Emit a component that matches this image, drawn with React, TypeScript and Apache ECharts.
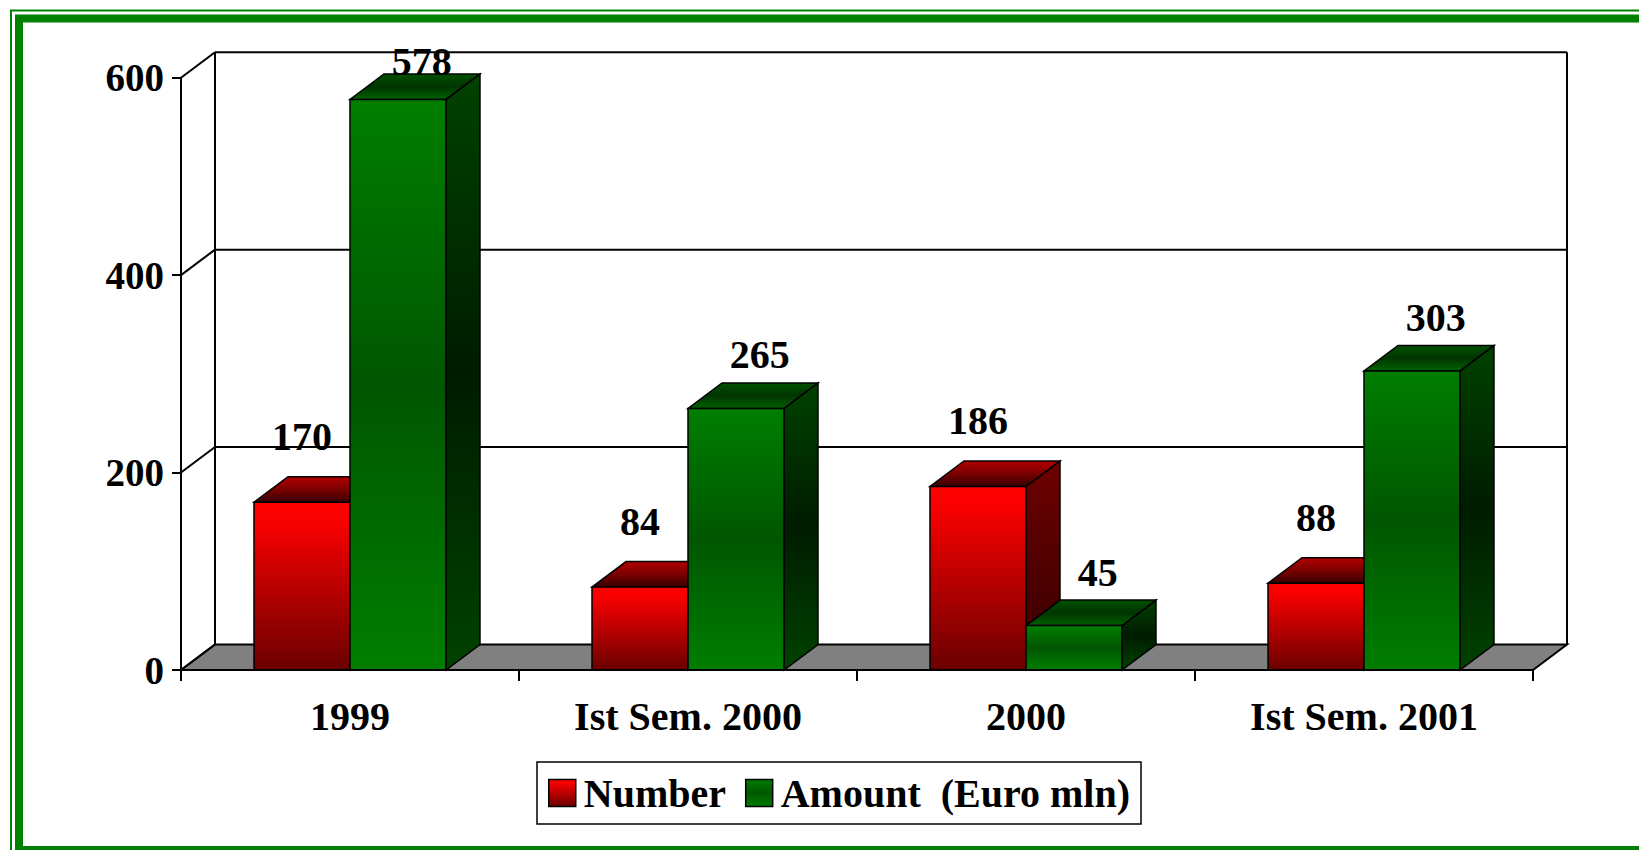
import { useEffect, useRef } from "react";
import * as echarts from "echarts";

const categories = ["1999", "Ist Sem. 2000", "2000", "Ist Sem. 2001"];
const numberValues = [170, 84, 186, 88];
const amountValues = [578, 265, 45, 303];
const seriesNames = ["Number", "Amount  (Euro mln)"];
const yTicks = [0, 200, 400, 600];

const FONT = '"Liberation Serif", "Times New Roman", serif';
const DX = 34;
const DY = 25.5;
const BAR_RATIO = 0.284;

type Palette = { front: string[]; top: string[]; side: string[] };

const redPal: Palette = {
  front: ["#FF0000", "#F80000", "#6A0000"],
  top: ["#B40000", "#7A0000", "#380000"],
  side: ["#6E0000", "#500000", "#3A0000"],
};
const greenPal: Palette = {
  front: ["#007E00", "#005600", "#007E00"],
  top: ["#005200", "#003400", "#006200"],
  side: ["#004200", "#001C00", "#004200"],
};

const grad = (c: string[], midAt = 0.5) =>
  new echarts.graphic.LinearGradient(0, 0, 0, 1, [
    { offset: 0, color: c[0] },
    { offset: midAt, color: c[1] },
    { offset: 1, color: c[2] },
  ]);

const barRender = (side: number, pal: Palette) => (params: any, api: any) => {
  const idx = api.value(0);
  const val = api.value(1);
  const top = api.coord([idx, val]);
  const base = api.coord([idx, 0]);
  const bw = api.size([1, 0])[0];
  const w = bw * BAR_RATIO;
  const x0 = side < 0 ? top[0] - w : top[0];
  const x1 = x0 + w;
  const yT = top[1];
  const yB = base[1];
  const cs = params.coordSys;
  const lift = side < 0 ? 40 : 28;
  const labelY = Math.max(yT - DY - lift, cs.y - DY + 9);
  const labelX = x0 + w / 2 + (side < 0 ? 0 : DX * 0.7);
  const stroke = { stroke: "#000", lineWidth: 1.5 };
  return {
    type: "group",
    children: [
      {
        type: "polygon",
        shape: { points: [[x1, yT], [x1 + DX, yT - DY], [x1 + DX, yB - DY], [x1, yB]] },
        style: { fill: grad(pal.side), ...stroke },
      },
      {
        type: "polygon",
        shape: { points: [[x0, yT], [x1, yT], [x1 + DX, yT - DY], [x0 + DX, yT - DY]] },
        style: { fill: grad(pal.top), ...stroke },
      },
      {
        type: "rect",
        shape: { x: x0, y: yT, width: w, height: yB - yT },
        style: { fill: grad(pal.front, side < 0 ? 0.12 : 0.5), ...stroke },
      },
      {
        type: "text",
        x: labelX,
        y: labelY,
        z2: 100,
        style: {
          text: String(val),
          font: `bold 40px ${FONT}`,
          fill: "#000",
          align: "center",
          verticalAlign: "middle",
          textAlign: "center",
          textVerticalAlign: "middle",
        },
      },
    ],
  };
};

const frameRender = (params: any, api: any) => {
  const cs = params.coordSys;
  const L = cs.x;
  const R = cs.x + cs.width;
  const yZero = api.coord([0, yTicks[0]])[1];
  const yMax = api.coord([0, yTicks[yTicks.length - 1]])[1];
  const line = { stroke: "#000", lineWidth: 2 };
  const children: any[] = [
    {
      type: "polygon",
      shape: { points: [[L, yZero], [R, yZero], [R + DX, yZero - DY], [L + DX, yZero - DY]] },
      style: { fill: "#808080", ...line },
    },
    { type: "line", shape: { x1: L + DX, y1: yMax - DY, x2: L + DX, y2: yZero - DY }, style: line },
    { type: "line", shape: { x1: R + DX, y1: yMax - DY, x2: R + DX, y2: yZero - DY }, style: line },
  ];
  yTicks.forEach((v) => {
    const y = api.coord([0, v])[1];
    if (v !== yTicks[0]) {
      children.push({ type: "line", shape: { x1: L + DX, y1: y - DY, x2: R + DX, y2: y - DY }, style: line });
    }
    children.push({ type: "line", shape: { x1: L, y1: y, x2: L + DX, y2: y - DY }, style: line });
  });
  return { type: "group", children };
};

export default function App() {
  const ref = useRef<HTMLDivElement>(null);
  useEffect(() => {
    if (!ref.current) return;
    const chart = echarts.init(ref.current, undefined, { renderer: "svg" });
    const textStyle = { fontFamily: FONT, fontWeight: "bold" as const, fontSize: 40, color: "#000" };
    chart.setOption({
      animation: false,
      backgroundColor: "#fff",
      grid: { left: 181, top: 77.7, width: 1352, height: 592.3, containLabel: false },
      xAxis: {
        type: "category",
        data: categories,
        boundaryGap: true,
        axisLine: { show: true, lineStyle: { color: "#000", width: 2 } },
        axisTick: { show: true, length: 11, interval: 0, lineStyle: { color: "#000", width: 2 } },
        axisLabel: { ...textStyle, margin: 26, interval: 0 },
        splitLine: { show: false },
        z: 5,
      },
      yAxis: {
        type: "value",
        min: 0,
        max: 600,
        interval: 200,
        axisLine: { show: true, lineStyle: { color: "#000", width: 2 } },
        axisTick: { show: true, length: 9, lineStyle: { color: "#000", width: 2 } },
        axisLabel: { ...textStyle, fontSize: 39, margin: 17, lineHeight: 46 },
        splitLine: { show: false },
        z: 5,
      },
      legend: {
        data: seriesNames,
        left: 537,
        top: 762,
        orient: "horizontal",
        padding: [8, 11, 8, 11],
        itemGap: 19,
        itemWidth: 27,
        itemHeight: 27,
        icon: "rect",
        backgroundColor: "#fff",
        borderColor: "#000",
        borderWidth: 1.5,
        borderRadius: 0,
        selectedMode: false,
        itemStyle: { borderColor: "#000", borderWidth: 1.5 },
        textStyle: { ...textStyle, padding: [0, 0, 0, 3], lineHeight: 46 },
      },
      graphic: [
        {
          type: "rect",
          shape: { x: 11, y: 10.5, width: 1700, height: 900 },
          style: { fill: "none", stroke: "#008000", lineWidth: 2 },
          silent: true,
        },
        {
          type: "rect",
          shape: { x: 19, y: 18.5, width: 1700, height: 831.5 },
          style: { fill: "none", stroke: "#008000", lineWidth: 8 },
          silent: true,
        },
      ],
      series: [
        {
          name: "frame",
          type: "custom",
          renderItem: frameRender,
          data: [[0, 0]],
          encode: { x: 0, y: 1 },
          z: 1,
          silent: true,
        },
        {
          name: seriesNames[0],
          type: "custom",
          renderItem: barRender(-1, redPal),
          data: numberValues.map((v, i) => [i, v]),
          encode: { x: 0, y: 1 },
          itemStyle: { color: grad(redPal.front, 0.12) },
          z: 2,
          silent: true,
        },
        {
          name: seriesNames[1],
          type: "custom",
          renderItem: barRender(1, greenPal),
          data: amountValues.map((v, i) => [i, v]),
          encode: { x: 0, y: 1 },
          itemStyle: { color: grad(greenPal.front) },
          z: 2,
          silent: true,
        },
      ],
    });
    return () => chart.dispose();
  }, []);
  return (
    <div
      ref={ref}
      style={{ position: "absolute", left: 0, top: 0, width: 1639, height: 850, background: "#fff" }}
    />
  );
}
